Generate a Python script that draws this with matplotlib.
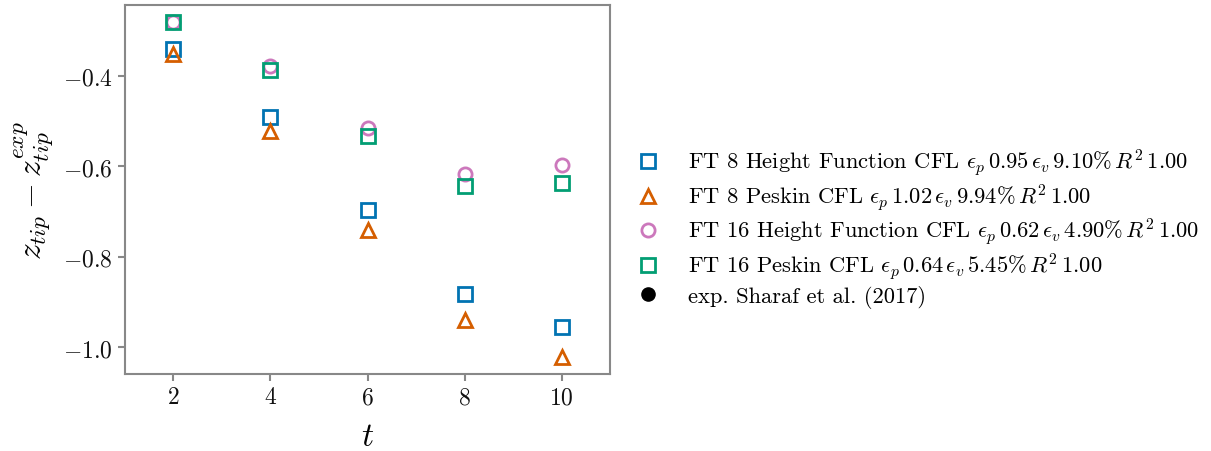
import matplotlib
matplotlib.use("Agg")
import matplotlib.pyplot as plt

plt.rcParams['font.family'] = 'serif'
plt.rcParams['font.serif'] = ['cmr10', 'DejaVu Serif']
plt.rcParams['mathtext.fontset'] = 'cm'
plt.rcParams['axes.formatter.use_mathtext'] = True

# datos
t = [2, 4, 6, 8, 10]
ft8_hf = [-0.341, -0.491, -0.697, -0.881, -0.955]
ft8_peskin = [-0.352, -0.521, -0.740, -0.940, -1.022]
ft16_hf = [-0.280, -0.379, -0.514, -0.616, -0.596]
ft16_peskin = [-0.281, -0.388, -0.533, -0.643, -0.636]

labels = [
    r'FT 8 Height Function CFL $\epsilon_p\, 0.95\, \epsilon_v\, 9.10\%\, R^2\, 1.00$',
    r'FT 8 Peskin CFL $\epsilon_p\, 1.02\, \epsilon_v\, 9.94\%\, R^2\, 1.00$',
    r'FT 16 Height Function CFL $\epsilon_p\, 0.62\, \epsilon_v\, 4.90\%\, R^2\, 1.00$',
    r'FT 16 Peskin CFL $\epsilon_p\, 0.64\, \epsilon_v\, 5.45\%\, R^2\, 1.00$',
    'exp. Sharaf et al. (2017)',
]

fig = plt.figure(figsize=(12.11, 4.52), dpi=100)
ax = fig.add_axes([0.103, 0.170, 0.401, 0.817])

ms = 9.5
mew = 2
ax.plot(t, ft8_hf, 's', color='#0173b2', mfc='none', ms=ms, mew=mew, label=labels[0])
ax.plot(t, ft8_peskin, '^', color='#d55e00', mfc='none', ms=ms, mew=mew, label=labels[1])
ax.plot(t, ft16_hf, 'o', color='#cc78bc', mfc='none', ms=ms, mew=mew, label=labels[2])
ax.plot(t, ft16_peskin, 's', color='#029e73', mfc='none', ms=ms, mew=mew, label=labels[3])
# sin datos experimentales visibles en el rango
ax.plot([], [], 'o', color='black', ms=ms, label=labels[4])

ax.set_xlim(1, 11)
ax.set_xticks([2, 4, 6, 8, 10])
ax.set_yticks([-0.4, -0.6, -0.8, -1.0])
ax.set_ylim(-1.059, -0.243)

for s in ax.spines.values():
    s.set_color('#888888')
    s.set_linewidth(1.5)
ax.tick_params(colors='#888888', labelcolor='#111111', width=1.5, length=5, labelsize=17)

ax.set_xlabel(r'$t$', fontsize=24, labelpad=10)
ax.set_ylabel(r'$z_{tip} - z_{tip}^{exp}$', fontsize=24, labelpad=6)

fig.legend(loc='center left', bbox_to_anchor=(0.514, 0.494), frameon=False, fontsize=16.2,
           handletextpad=1.0, labelspacing=0.15, handlelength=1.5, borderaxespad=0.0)

fig.savefig('out.png', dpi=100)
